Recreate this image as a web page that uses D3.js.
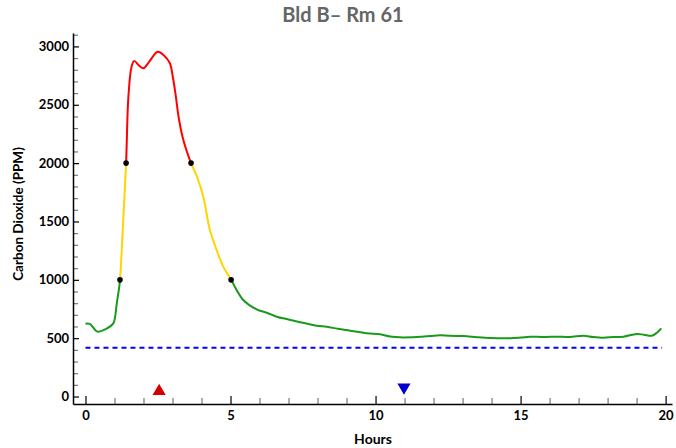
<!DOCTYPE html>
<html>
<head>
<meta charset="utf-8">
<script src="https://cdn.jsdelivr.net/npm/d3@7"></script>
<style>
  html, body { margin: 0; padding: 0; background: #fff; }
  svg { display: block; }
  text { font-family: Lato, "Open Sans", sans-serif; font-weight: bold; }
</style>
</head>
<body>
<svg id="chart" width="676" height="448"></svg>
<script>
// ---------------- data ----------------
const title = "Bld B\u2013 Rm 61";
const xLabel = "Hours";
const yLabel = "Carbon Dioxide (PPM)";

const hours = [0.0, 0.15, 0.41, 0.7, 0.96, 1.02, 1.08, 1.15, 1.19, 1.30, 1.40, 1.48, 1.59, 1.68, 1.85, 2.0, 2.2, 2.49, 2.7, 2.91, 3.01, 3.10, 3.22, 3.36, 3.50, 3.64, 3.85, 4.06, 4.29, 4.52, 4.75, 5.02, 5.44, 5.9, 6.25, 6.59, 7.0, 7.40, 7.97, 8.32, 8.7, 9.12, 9.7, 10.16, 10.5, 10.84, 11.42, 11.88, 12.22, 12.57, 13.03, 13.5, 13.95, 14.64, 15.0, 15.33, 15.8, 16.25, 16.7, 17.17, 17.5, 17.86, 18.2, 18.55, 19.0, 19.25, 19.52, 19.7, 19.85];
const ppm   = [624, 622, 556, 578, 627, 680, 800, 913, 1000, 1500, 2000, 2570, 2827, 2876, 2835, 2813, 2870, 2955, 2925, 2856, 2740, 2600, 2380, 2210, 2095, 2000, 1880, 1713, 1427, 1256, 1113, 1000, 827, 747, 718, 684, 660, 636, 607, 598, 580, 564, 542, 533, 515, 507, 510, 518, 525, 520, 518, 508, 501, 499, 505, 513, 510, 513, 510, 521, 510, 504, 510, 513, 536, 530, 521, 547, 584];

// threshold crossings (hours, ppm)
const crossHours = [1.19, 1.40, 3.64, 5.02];
const crossPpm   = [1000, 2000, 2000, 1000];

// color bands
const bandLow    = [-1000, 1000, 2000];
const bandHigh   = [1000, 2000, 10000];
const bandColors = ["#1a9a1a", "#ffd400", "#ff0000"];

// outdoor baseline
const baselinePpm = 418;
const baselineStart = 0;
const baselineEnd = 19.88;

// markers
const upMarkerHour = 2.54, upMarkerPpm = 45;
const downMarkerHour = 10.98, downMarkerPpm = 80;

const xMajorTicks = [0, 5, 10, 15, 20];
const xMinorTicks = d3.range(0, 21, 1);
const yMajorTicks = [0, 500, 1000, 1500, 2000, 2500, 3000];
const yMinorTicks = d3.range(0, 3101, 100);

// ---------------- chart ----------------
const svg = d3.select("#chart");
const x = d3.scaleLinear().domain([-0.43, 20.22]).range([73, 672]);
const y = d3.scaleLinear().domain([-64, 3115]).range([404, 33]);

svg.append("text").attr("x", 343).attr("y", 22).attr("text-anchor", "middle")
  .attr("font-size", 20).attr("fill", "#666").text(title);

// minor ticks
svg.append("g").attr("transform", "translate(0,404)")
  .call(d3.axisBottom(x).tickValues(xMinorTicks.filter(v => !xMajorTicks.includes(v))).tickSize(-6).tickSizeOuter(0).tickFormat(""))
  .call(g => g.select(".domain").remove())
  .call(g => g.selectAll(".tick line").attr("stroke", "#777").attr("stroke-width", 1.2));
svg.append("g").attr("transform", "translate(73,0)")
  .call(d3.axisLeft(y).tickValues(yMinorTicks.filter(v => !yMajorTicks.includes(v))).tickSize(-5).tickSizeOuter(0).tickFormat(""))
  .call(g => g.select(".domain").remove())
  .call(g => g.selectAll(".tick line").attr("stroke", "#777").attr("stroke-width", 1.2));

// major axes
const xAxis = svg.append("g").attr("transform", "translate(0,404)")
  .call(d3.axisBottom(x).tickValues(xMajorTicks).tickSize(-8).tickSizeOuter(0).tickPadding(7).tickFormat(d3.format("d")));
xAxis.selectAll(".tick line").attr("stroke", "#000").attr("stroke-width", 1.2);
xAxis.select(".domain").attr("stroke", "#000").attr("stroke-width", 1.5);
xAxis.selectAll("text").attr("font-size", 13).attr("fill", "#000")
  .style("font-family", "Lato, 'Open Sans', sans-serif").style("font-weight", "bold");

const yAxis = svg.append("g").attr("transform", "translate(73,0)")
  .call(d3.axisLeft(y).tickValues(yMajorTicks).tickSize(-6).tickSizeOuter(0).tickPadding(4).tickFormat(d3.format("d")));
yAxis.selectAll(".tick line").attr("stroke", "#000").attr("stroke-width", 1.2);
yAxis.select(".domain").attr("stroke", "#000").attr("stroke-width", 1.5);
yAxis.selectAll("text").attr("font-size", 13).attr("fill", "#000")
  .style("font-family", "Lato, 'Open Sans', sans-serif").style("font-weight", "bold");

svg.append("text").attr("x", 373).attr("y", 444).attr("text-anchor", "middle")
  .attr("font-size", 14).attr("fill", "#000").text(xLabel);
svg.append("text").attr("transform", "translate(23,214) rotate(-90)").attr("text-anchor", "middle")
  .attr("font-size", 13.5).attr("fill", "#000").text(yLabel);

// baseline
svg.append("line")
  .attr("x1", x(baselineStart)).attr("x2", x(baselineEnd))
  .attr("y1", y(baselinePpm)).attr("y2", y(baselinePpm))
  .attr("stroke", "#0000ff").attr("stroke-width", 2).attr("stroke-dasharray", "5,4");

// curve colored by band
const pts = hours.map((h, i) => [h, ppm[i]]);
const line = d3.line().x(d => x(d[0])).y(d => y(d[1])).curve(d3.curveCatmullRom.alpha(0.5));
const defs = svg.append("defs");
bandColors.forEach((c, i) => {
  const top = y(bandHigh[i]);
  const bot = y(bandLow[i]);
  defs.append("clipPath").attr("id", "band" + i)
    .append("rect").attr("x", 0).attr("width", 676)
    .attr("y", Math.min(top, bot)).attr("height", Math.abs(bot - top));
  svg.append("path").datum(pts)
    .attr("d", line).attr("fill", "none").attr("stroke", c).attr("stroke-width", 2)
    .attr("clip-path", "url(#band" + i + ")");
});

svg.selectAll("circle.cross").data(crossHours).enter().append("circle")
  .attr("class", "cross")
  .attr("cx", d => x(d)).attr("cy", (d, i) => y(crossPpm[i])).attr("r", 2.8).attr("fill", "#000");

const tri = d3.symbol().type(d3.symbolTriangle).size(75);
svg.append("path").attr("d", tri())
  .attr("transform", `translate(${x(upMarkerHour)},${y(upMarkerPpm)})`).attr("fill", "#d40000");
svg.append("path").attr("d", tri())
  .attr("transform", `translate(${x(downMarkerHour)},${y(downMarkerPpm)}) rotate(180)`).attr("fill", "#0000cc");
</script>
</body>
</html>
